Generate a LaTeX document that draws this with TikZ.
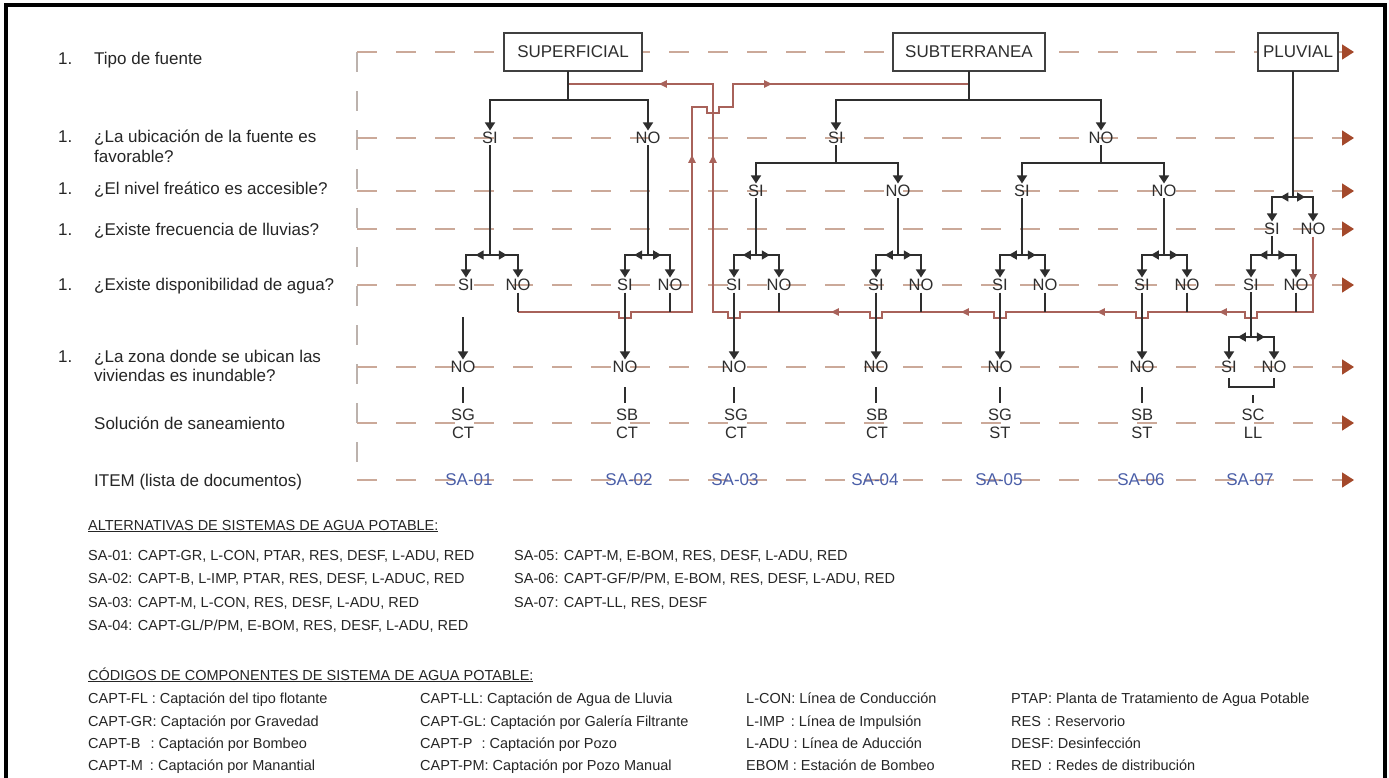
\documentclass[tikz,border=0pt]{standalone}
\usepackage{fontspec}
\setmainfont{Liberation Sans}
\usetikzlibrary{arrows.meta,decorations.markings}
\definecolor{dashc}{HTML}{CBA999}
\definecolor{vdashc}{HTML}{BCB2AD}
\definecolor{rarr}{HTML}{A4492B}
\definecolor{brn}{HTML}{A8625A}
\definecolor{treec}{HTML}{2E2E2E}
\definecolor{boxc}{HTML}{404040}
\definecolor{labc}{HTML}{262626}
\definecolor{blu}{HTML}{4A5EA8}
\newcommand\ahd[4]{\fill[#4,shift={(#1,#2)},rotate=#3] (-3.8,3.8) -- (3.8,0) -- (-3.8,-3.8) -- cycle;}
\newcommand\treebr[4]{%
 \draw[tree] (#1) -- (#2);
 \draw[tree] (#2) -- (#2 -| #3);
 \draw[tree] (#2) -- (#2 -| #4);
 \draw[tarr] (#2 -| #3) -- (#3);
 \draw[tarr] (#2 -| #4) -- (#4);}
\newcommand\treefk[4]{%
 \draw[tree] (#1) -- (#2);
 \draw[tree,midarr] (#2) -- (#2 -| #3);
 \draw[tree,midarr] (#2) -- (#2 -| #4);
 \draw[tarr] (#2 -| #3) -- (#3);
 \draw[tarr] (#2 -| #4) -- (#4);}
\begin{document}
\begin{tikzpicture}[x=1pt,y=-1pt,
 lab/.style={font=\fontsize{17}{20}\selectfont, text=labc, anchor=base west, inner sep=0pt},
 leg/.style={font=\fontsize{14.5}{16}\selectfont, text=labc, anchor=base west, inner sep=0pt},
 tn/.style={font=\fontsize{16.5}{18}\selectfont, text=treec, inner sep=1.5pt},
 sol/.style={tn, align=center},
 sab/.style={font=\fontsize{17}{19}\selectfont, text=blu, inner sep=1pt},
 srcbox/.style={draw=boxc, line width=1.4pt, fill=white, minimum height=38pt, font=\fontsize{17}{19}\selectfont, text=treec, inner sep=0pt},
 tree/.style={color=treec, line width=1.5pt, line cap=rect},
 tarr/.style={color=treec, line width=1.5pt, -{Triangle[length=8pt,width=10pt]}},
 midarr/.style={postaction={decorate}, decoration={markings, mark=at position 0.6 with {\arrow{Triangle[length=8pt,width=9pt]}}}},
 dashrow/.style={draw=dashc, line width=1.6pt, dash pattern=on 20pt off 19pt, -{Triangle[length=12pt,width=15pt,color=rarr]}},
 vdash/.style={draw=vdashc, line width=1.4pt, dash pattern=on 20pt off 19pt},
 brline/.style={draw=brn, line width=1.2pt},
 tick/.style={draw=treec, line width=1.2pt}
]
\useasboundingbox (0,0) rectangle (1389,777);
\fill[white] (0,0) rectangle (1389,777);
% frame
\draw[line width=4pt, black] (6,800) -- (6,5) -- (1385,5) -- (1385,800);

% row guide lines
\foreach \i/\y in {1/52,2/138,3/191,4/229,5/285,6/367,7/423,8/480} {
  \coordinate (L\i) at (357,\y); \coordinate (R\i) at (1354,\y);}
\draw[vdash] (L1) -- (L8);
\foreach \i in {1,...,8} \draw[dashrow] (L\i) -- (R\i);

% source boxes
\node[srcbox, minimum width=138pt] (sup) at (573,52) {SUPERFICIAL};
\node[srcbox, minimum width=152pt] (sub) at (969,52) {SUBTERRANEA};
\node[srcbox, minimum width=80pt] (plu) at (1298,52) {PLUVIAL};

% left labels (baselines)
\node[lab] (n1) at (58,64) {1.};  \node[lab] (q1) at (94,64) {Tipo de fuente};
\node[lab] (n2) at (58,142) {1.}; \node[lab] (q2) at (94,142) {¿La ubicación de la fuente es};
\node[lab] (q2b) at (94,162) {favorable?};
\node[lab] (n3) at (58,194) {1.}; \node[lab] (q3) at (94,194) {¿El nivel freático es accesible?};
\node[lab] (n4) at (58,235) {1.}; \node[lab] (q4) at (94,235) {¿Existe frecuencia de lluvias?};
\node[lab] (n5) at (58,290) {1.}; \node[lab] (q5) at (94,290) {¿Existe disponibilidad de agua?};
\node[lab] (n6) at (58,362) {1.}; \node[lab] (q6) at (94,362) {¿La zona donde se ubican las};
\node[lab] (q6b) at (94,381) {viviendas es inundable?};
\node[lab] (q7) at (94,429) {Solución de saneamiento};
\node[lab] (q8) at (94,486) {ITEM (lista de documentos)};

% tree nodes
\node[tn] (sSI) at (490,138) {SI};
\node[tn] (sNO) at (648,138) {NO};
\node[tn] (uSI) at (836,138) {SI};
\node[tn] (uNO) at (1101,138) {NO};
\node[tn] (u3a) at (756,191) {SI};
\node[tn] (u3b) at (898,191) {NO};
\node[tn] (u3c) at (1022,191) {SI};
\node[tn] (u3d) at (1164,191) {NO};
\node[tn] (p4a) at (1272,229) {SI};
\node[tn] (p4b) at (1313,229) {NO};
\node[tn] (a5) at (466,285) {SI};   \node[tn] (a5n) at (518,285) {NO};
\node[tn] (b5) at (625,285) {SI};   \node[tn] (b5n) at (670,285) {NO};
\node[tn] (c5) at (734,285) {SI};   \node[tn] (c5n) at (779,285) {NO};
\node[tn] (d5) at (876,285) {SI};   \node[tn] (d5n) at (921,285) {NO};
\node[tn] (e5) at (1000,285) {SI};  \node[tn] (e5n) at (1045,285) {NO};
\node[tn] (f5) at (1142,285) {SI};  \node[tn] (f5n) at (1187,285) {NO};
\node[tn] (g5) at (1251,285) {SI};  \node[tn] (g5n) at (1296,285) {NO};
\node[tn] (a6) at (463,367) {NO};
\node[tn] (b6) at (625,367) {NO};
\node[tn] (c6) at (734,367) {NO};
\node[tn] (d6) at (876,367) {NO};
\node[tn] (e6) at (1000,367) {NO};
\node[tn] (f6) at (1142,367) {NO};
\node[tn] (g6) at (1229,367) {SI};  \node[tn] (g6n) at (1274,367) {NO};
\node[sol] (a7) at (463,424) {SG\\CT};
\node[sol] (b7) at (627,424) {SB\\CT};
\node[sol] (c7) at (736,424) {SG\\CT};
\node[sol] (d7) at (877,424) {SB\\CT};
\node[sol] (e7) at (1000,424) {SG\\ST};
\node[sol] (f7) at (1142,424) {SB\\ST};
\node[sol] (g7) at (1253,424) {SC\\LL};
\node[sab] (sa1) at (469,480) {SA-01};
\node[sab] (sa2) at (629,480) {SA-02};
\node[sab] (sa3) at (735,480) {SA-03};
\node[sab] (sa4) at (875,480) {SA-04};
\node[sab] (sa5) at (999,480) {SA-05};
\node[sab] (sa6) at (1141,480) {SA-06};
\node[sab] (sa7) at (1250,480) {SA-07};

% fork points
\coordinate (fs) at (568,100);
\coordinate (fu) at (969,100);
\coordinate (fu3a) at (836,163);
\coordinate (fu3b) at (1101,163);
\coordinate (fp4) at (1293,197);
\coordinate (fa) at (490,255);
\coordinate (fb) at (648,255);
\coordinate (fc) at (756,255);
\coordinate (fd) at (898,255);
\coordinate (fe) at (1022,255);
\coordinate (ff) at (1164,255);
\coordinate (fg) at (1272,255);
\coordinate (fg6) at (1251,337);
\coordinate (by) at (0,312);
\coordinate (yb) at (0,84);
\coordinate (t1) at (0,387);
\coordinate (t2) at (0,403);
\coordinate (t3) at (0,395);
\coordinate (bk1) at (0,378);
\coordinate (bk2) at (0,387);
\coordinate (a6top) at (463,317);
\coordinate (Ab) at (692,312);
\coordinate (At) at (692,107);
\coordinate (Bb) at (713,312);
\coordinate (Bt) at (713,84);

% brown feedback lines
\draw[brline] (a5n |- by) -- (619,312) -- (619,318) -- (631,318) -- (631,312) -- (Ab) -- (At)
  -- (707,107) -- (707,113) -- (719,113) -- (719,107) -- (733,107) -- (733,84) -- (fu |- yb);
\draw[brline] (p4b) -- (p4b |- by)
  \foreach \c in {1251,1142,1000,876,734} { -- (\c+6,312) -- (\c+6,318) -- (\c-6,318) -- (\c-6,312) }
  -- (Bb) -- (Bt) -- (fs |- yb);
\ahd{663}{84}{180}{brn}
\ahd{768}{84}{0}{brn}
\ahd{692}{159}{90}{brn}
\ahd{713}{159}{90}{brn}
\ahd{835}{312}{180}{brn}
\ahd{965}{312}{180}{brn}
\ahd{1101}{312}{180}{brn}
\ahd{1223}{312}{180}{brn}
\ahd{1313}{278}{-90}{brn}

% tree connectors
\treebr{sup.south -| fs}{fs}{sSI}{sNO}
\treebr{sub.south -| fu}{fu}{uSI}{uNO}
\treebr{uSI}{fu3a}{u3a}{u3b}
\treebr{uNO}{fu3b}{u3c}{u3d}
\treefk{plu.south -| fp4}{fp4}{p4a}{p4b}
\treefk{sSI}{fa}{a5}{a5n}
\treefk{sNO}{fb}{b5}{b5n}
\treefk{u3a}{fc}{c5}{c5n}
\treefk{u3b}{fd}{d5}{d5n}
\treefk{u3c}{fe}{e5}{e5n}
\treefk{u3d}{ff}{f5}{f5n}
\treefk{p4a}{fg}{g5}{g5n}
\treefk{g5}{fg6}{g6}{g6n}

% SI -> NO (inundable)
\draw[tarr] (a6top) -- (a6);
\draw[tarr] (b5) -- (b6);
\draw[tarr] (c5) -- (c6);
\draw[tarr] (d5) -- (d6);
\draw[tarr] (e5) -- (e6);
\draw[tarr] (f5) -- (f6);
% NO ticks down to feedback line
\foreach \n in {a5n,b5n,c5n,d5n,e5n,f5n,g5n} \draw[tick] (\n) -- (\n |- by);
% ticks to solutions
\foreach \n in {a6,b6,c6,d6,e6,f6} \draw[tick] (\n |- t1) -- (\n |- t2);
\draw[tick] (g6 |- bk1) -- (g6 |- bk2) -- (g6n |- bk2) -- (g6n |- bk1);
\draw[tick] (g7 |- t3) -- (g7 |- t2);

% legend (baselines)
\node[leg] (h1) at (88,530) {\underline{ALTERNATIVAS DE SISTEMAS DE AGUA POTABLE:}};
\node[leg] (l1) at (88,560) {SA-01: CAPT-GR, L-CON, PTAR, RES, DESF, L-ADU, RED};
\node[leg] (l2) at (88,583) {SA-02: CAPT-B, L-IMP, PTAR, RES, DESF, L-ADUC, RED};
\node[leg] (l3) at (88,607) {SA-03: CAPT-M, L-CON, RES, DESF, L-ADU, RED};
\node[leg] (l4) at (88,630) {SA-04: CAPT-GL/P/PM, E-BOM, RES, DESF, L-ADU, RED};
\node[leg] (l5) at (514,560) {SA-05: CAPT-M, E-BOM, RES, DESF, L-ADU, RED};
\node[leg] (l6) at (514,583) {SA-06: CAPT-GF/P/PM, E-BOM, RES, DESF, L-ADU, RED};
\node[leg] (l7) at (514,607) {SA-07: CAPT-LL, RES, DESF};
\node[leg] (h2) at (88,680) {\underline{CÓDIGOS DE COMPONENTES DE SISTEMA DE AGUA POTABLE:}};
\node[leg] (k1) at (88,703) {CAPT-FL : Captación del tipo flotante};
\node[leg] (k2) at (88,726) {CAPT-GR: Captación por Gravedad};
\node[leg] (k3) at (88,748) {CAPT-B\hspace{10pt}: Captación por Bombeo};
\node[leg] (k4) at (88,770) {CAPT-M\hspace{7pt}: Captación por Manantial};
\node[leg] (k5) at (420,703) {CAPT-LL: Captación de Agua de Lluvia};
\node[leg] (k6) at (420,726) {CAPT-GL: Captación por Galería Filtrante};
\node[leg] (k7) at (420,748) {CAPT-P\hspace{9pt}: Captación por Pozo};
\node[leg] (k8) at (420,770) {CAPT-PM: Captación por Pozo Manual};
\node[leg] (k9) at (746,703) {L-CON: Línea de Conducción};
\node[leg] (k10) at (746,726) {L-IMP\hspace{6pt}: Línea de Impulsión};
\node[leg] (k11) at (746,748) {L-ADU : Línea de Aducción};
\node[leg] (k12) at (746,770) {EBOM : Estación de Bombeo};
\node[leg] (k13) at (1011,703) {PTAP: Planta de Tratamiento de Agua Potable};
\node[leg] (k14) at (1011,726) {RES\hspace{6pt}: Reservorio};
\node[leg] (k15) at (1011,748) {DESF: Desinfección};
\node[leg] (k16) at (1011,770) {RED\hspace{6pt}: Redes de distribución};
\end{tikzpicture}
\end{document}
